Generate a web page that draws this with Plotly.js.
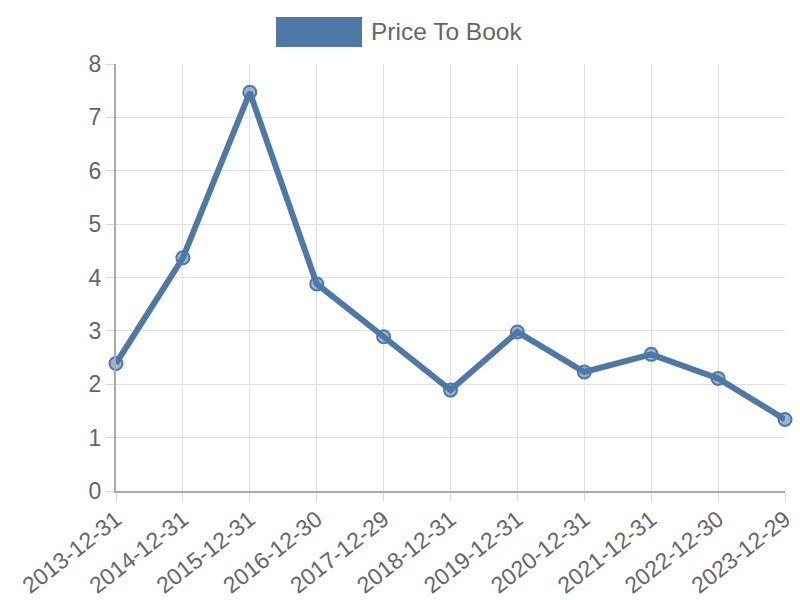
<!DOCTYPE html>
<html>
<head>
<meta charset="utf-8">
<script src="https://cdn.plot.ly/plotly-3.0.1.min.js"></script>
<style>html,body{margin:0;padding:0;background:#fff;}#chart{width:800px;height:600px;}</style>
</head>
<body>
<div id="chart"></div>
<script>
const dates = ["2013-12-31","2014-12-31","2015-12-31","2016-12-30","2017-12-29","2018-12-31","2019-12-31","2020-12-31","2021-12-31","2022-12-30","2023-12-29"];
const priceToBook = [2.39, 4.37, 7.47, 3.88, 2.89, 1.89, 2.98, 2.23, 2.56, 2.11, 1.34];
const seriesName = "Price To Book";
const yTicks = [0,1,2,3,4,5,6,7,8];

const blue = "#4e79a7";
const trace = {
  type: "scatter",
  mode: "lines+markers",
  x: dates,
  y: priceToBook,
  name: seriesName,
  line: {color: blue, width: 6},
  marker: {size: 13, color: "rgba(78,121,167,0.55)", line: {color: blue, width: 2}},
  cliponaxis: false,
  showlegend: false
};

const layout = {
  width: 800, height: 600,
  margin: {l: 116, r: 15, t: 64, b: 109},
  paper_bgcolor: "#fff", plot_bgcolor: "#fff",
  font: {family: "Liberation Sans, Arial, sans-serif", color: "#666", size: 22},
  xaxis: {
    type: "category",
    range: [0, dates.length - 1],
    autorange: false,
    tickangle: -38,
    ticklabelstandoff: -4,
    showgrid: true, gridcolor: "#e1e1e1", gridwidth: 1,
    ticks: "outside", ticklen: 8, tickcolor: "#d8d8d8",
    showline: true, linecolor: "#aaa", linewidth: 2,
    tickfont: {size: 23, color: "#666"},
    zeroline: false
  },
  yaxis: {
    range: [0, 8], autorange: false,
    tickvals: yTicks,
    showgrid: true, gridcolor: "#e1e1e1", gridwidth: 1,
    ticks: "outside", ticklen: 8, tickcolor: "#d8d8d8",
    showline: true, linecolor: "#aaa", linewidth: 2,
    tickfont: {size: 23, color: "#666"},
    zeroline: false
  },
  shapes: [{
    type: "rect", xref: "paper", yref: "paper",
    x0: (276-116)/669, x1: (362-116)/669,
    y0: (600-109-47)/ (600-64-109) , y1: (600-109-17)/(600-64-109),
    fillcolor: blue, line: {width: 0}
  }],
  annotations: [{
    xref: "paper", yref: "paper",
    x: (369-116)/669, y: (600-109-32)/(600-64-109),
    xanchor: "left", yanchor: "middle",
    text: seriesName, showarrow: false,
    font: {size: 24.5, color: "#666"}
  }]
};

Plotly.newPlot("chart", [trace], layout, {displayModeBar: false, staticPlot: true});
</script>
</body>
</html>
